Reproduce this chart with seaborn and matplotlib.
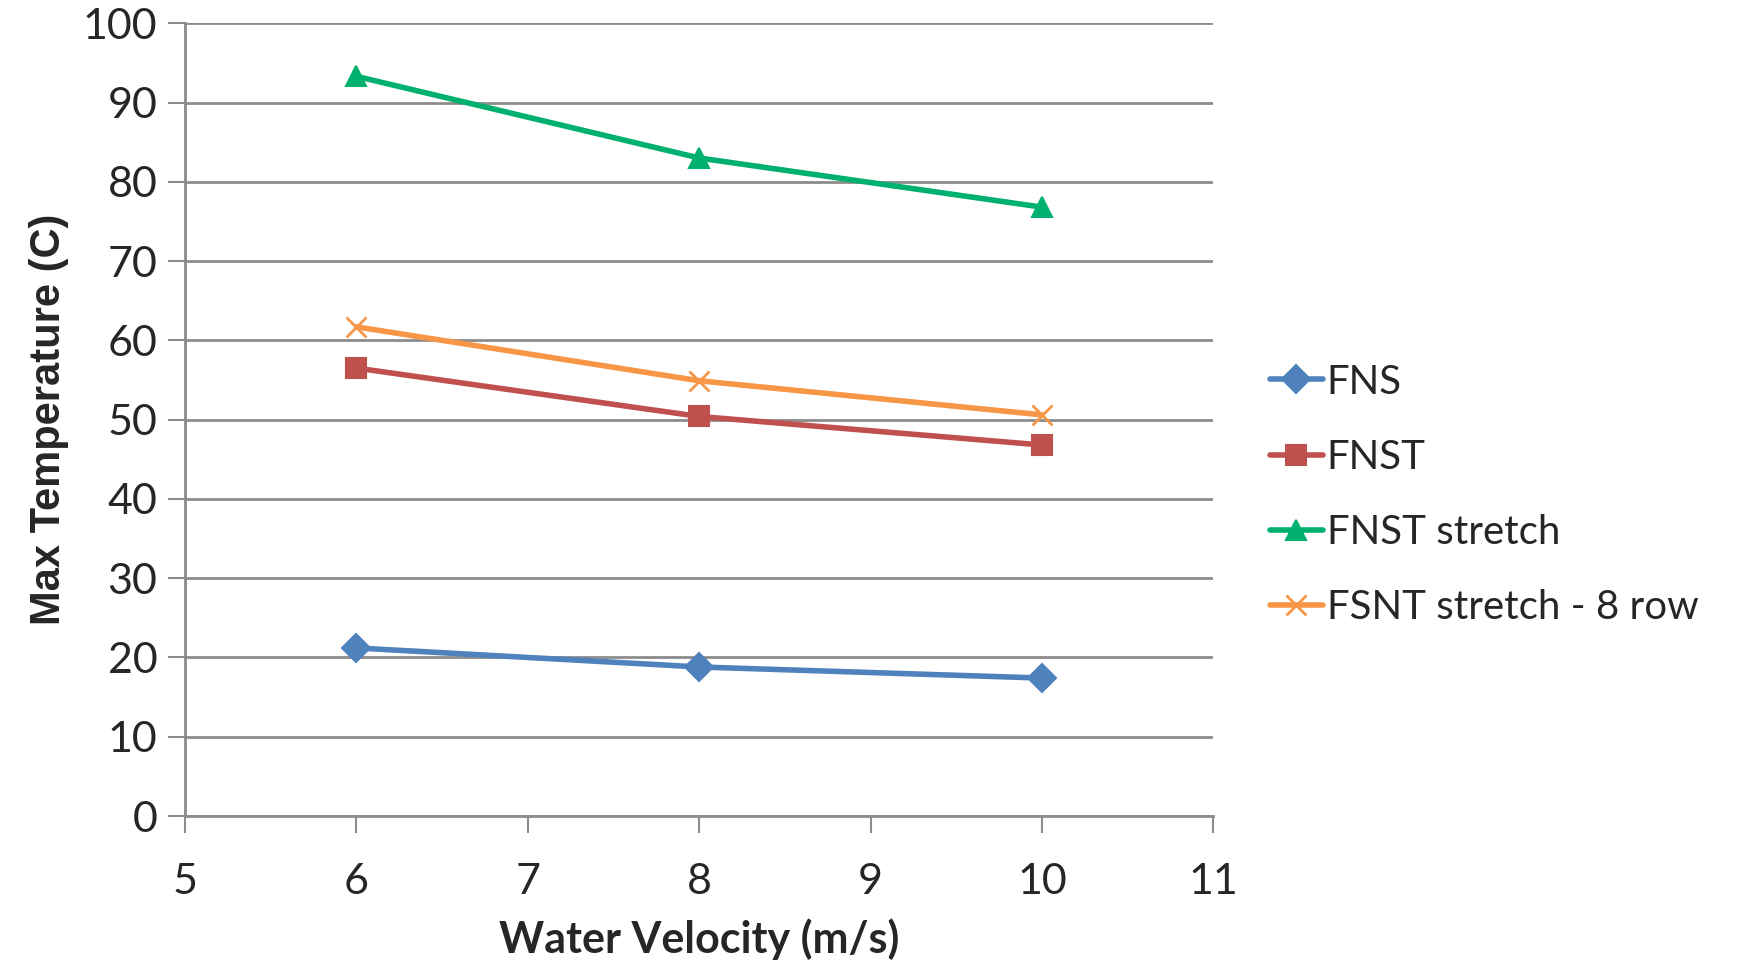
import matplotlib
matplotlib.use("Agg")
import matplotlib.pyplot as plt
import seaborn as sns
import pandas as pd

velocity = [6, 8, 10]
fns = [21.2, 18.8, 17.4]
fnst = [56.5, 50.4, 46.8]
fnst_stretch = [93.3, 83.0, 76.8]
fsnt_stretch_8row = [61.7, 54.9, 50.6]

series_names = ["FNS", "FNST", "FNST stretch", "FSNT stretch - 8 row"]
series_values = [fns, fnst, fnst_stretch, fsnt_stretch_8row]
colors = ["#4F81BD", "#C0504D", "#00B06E", "#F79646"]
markers = ["D", "s", "^", "x"]

sns.set_style("white")
plt.rcParams['font.family'] = ['Lato', 'DejaVu Sans']

fig = plt.figure(figsize=(17.46, 9.68), dpi=100)
ax = fig.add_axes([0.106, 0.157, 0.589, 0.819])

# one lineplot per series (seaborn won't mix filled and line-art markers in one call)
for name, vals, c, m in zip(series_names, series_values, colors, markers):
    df = pd.DataFrame({"v": velocity, "t": vals})
    sns.lineplot(data=df, x="v", y="t", color=c, marker=m, label=name,
                 linewidth=4, markersize=14 if m != 'x' else 15,
                 markeredgewidth=1.5 if m != 'x' else 2,
                 markeredgecolor=c, markerfacecolor=c, ax=ax)

ax.set_xlim(5, 11)
ax.set_ylim(0, 100)
ax.set_xticks(range(5, 12))
ax.set_yticks(range(0, 101, 10))
ax.grid(axis='y', color='#8c8c8c', linewidth=2)
ax.grid(axis='x', visible=False)
ax.set_axisbelow(True)
for s in ['top', 'right']:
    ax.spines[s].set_visible(False)
ax.spines['left'].set_color('#8c8c8c')
ax.spines['left'].set_linewidth(2)
ax.spines['bottom'].set_color('#8c8c8c')
ax.spines['bottom'].set_linewidth(2)
ax.tick_params(axis='both', which='major', length=12, width=1.5, color='#8c8c8c',
               labelsize=31, direction='out', bottom=True, left=True)
ax.tick_params(axis='x', pad=22)
ax.tick_params(axis='y', pad=8)

ax.set_xlabel("Water Velocity (m/s)", fontsize=31, fontweight='bold', labelpad=12)
ax.set_ylabel("Max Temperature (C)", fontsize=30, fontweight='bold', labelpad=10,
              family=['Liberation Sans', 'DejaVu Sans'])

ax.legend(loc='center left', bbox_to_anchor=(1.02, 0.405), frameon=False,
          fontsize=29, handlelength=1.3, handletextpad=0.1, labelspacing=0.95)

fig.savefig("out.png", dpi=100, facecolor='white')
